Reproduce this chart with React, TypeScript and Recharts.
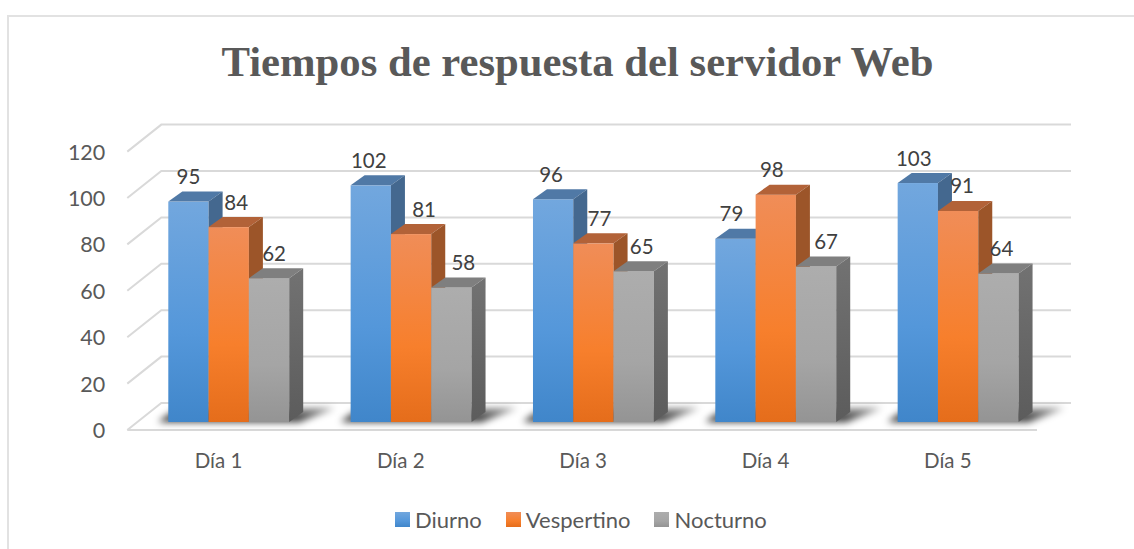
import React from "react";
import { BarChart, Bar, XAxis, YAxis, CartesianGrid, Legend, LabelList } from "recharts";

const categories = ["Día 1", "Día 2", "Día 3", "Día 4", "Día 5"];
const diurno = [95, 102, 96, 79, 103];
const vespertino = [84, 81, 77, 98, 91];
const nocturno = [62, 58, 65, 67, 64];
const yTicks = [0, 20, 40, 60, 80, 100, 120];
const rows = categories.map((name, i) => ({ name, Diurno: diurno[i], Vespertino: vespertino[i], Nocturno: nocturno[i] }));

const diurnoNudge = [0, -2, -2, -4, -4];
const vespertinoNudge = [7.5, 13, 6, -4, 4];
const nocturnoNudge = [5, 12, 8, 10, 3];

const FONT = "Lato, sans-serif";
const DX = 14;
const DY = 10;

const Box = ({ x, y, width, height, fill, topFill, sideFill, shadow }: any) => (
  <g>
    {shadow ? (
      <polygon
        points={`${x - 10},${y + height} ${x + width * 3 + 10},${y + height} ${x + width * 3 + 46},${y + height - 14} ${x + 8},${y + height - 14}`}
        fill="url(#gShadow)"
        filter="url(#shadowBlur)"
      />
    ) : null}
    <rect x={x} y={y} width={width} height={height} fill={fill} />
    <polygon points={`${x},${y} ${x + width},${y} ${x + width + DX},${y - DY} ${x + DX},${y - DY}`} fill={topFill} />
    <polygon
      points={`${x + width},${y} ${x + width + DX},${y - DY} ${x + width + DX},${y + height - DY} ${x + width},${y + height}`}
      fill={sideFill}
    />
  </g>
);

const gridLine = (props: any) => {
  const { x1, x2, y1 } = props;
  const fx = x1 - 10;
  const bx = x1 + 24;
  const fy = y1 + 8;
  const by = y1 - 19;
  return (
    <g key={props.key ?? y1}>
      <polyline points={`${fx},${fy} ${bx},${by} ${x2 + 22},${by}`} fill="none" stroke="#D9D9D9" strokeWidth={2} />
      {y1 > 420 ? <line x1={fx} y1={fy} x2={x2 - 12} y2={fy} stroke="#D9D9D9" strokeWidth={2} /> : null}
    </g>
  );
};

const YTick = ({ x, y, payload }: any) => (
  <text x={x} y={y + 8} textAnchor="end" dominantBaseline="central" fontFamily={FONT} fontSize={21.5} fill="#595959">
    {payload.value}
  </text>
);

const XTick = ({ x, y, payload }: any) => (
  <text x={x - 10} y={y + 46} textAnchor="middle" fontFamily={FONT} fontSize={20.5} fill="#595959">
    {payload.value}
  </text>
);

const valueLabel = (nudge: number[]) => ({ x, y, width, value, index }: any) => (
  <text x={x + width / 2 + nudge[index]} y={y - 25.5} textAnchor="middle" dominantBaseline="central" fontFamily={FONT} fontSize={20.5} fill="#404040">
    {value}
  </text>
);

const legendContent = ({ payload }: any) => (
  <div style={{ display: "flex", alignItems: "center", height: 30 }}>
    {(payload ?? []).map((entry: any) => (
      <div key={entry.value} style={{ display: "flex", alignItems: "center", marginRight: 24 }}>
        <svg width={15} height={15} style={{ marginRight: 5 }}>
          <rect width={15} height={15} fill={entry.color} />
        </svg>
        <span style={{ color: "#595959", fontFamily: FONT, fontSize: 22 }}>{entry.value}</span>
      </div>
    ))}
  </div>
);

const stops = (id: string, a: string, b: string, c: string) => (
  <linearGradient id={id} x1="0" y1="0" x2="0" y2="1">
    <stop offset="0" stopColor={a} />
    <stop offset="0.6" stopColor={b} />
    <stop offset="1" stopColor={c} />
  </linearGradient>
);

export default function App() {
  return (
    <div style={{ position: "absolute", left: 0, top: 0, width: 1134, height: 549, background: "#fff", overflow: "hidden" }}>
      <div style={{ position: "absolute", left: 7, top: 15, width: 1140, height: 560, borderTop: "2px solid #E2E2E2", borderLeft: "2px solid #E2E2E2", boxSizing: "border-box" }} />
      <div
        style={{
          position: "absolute", left: 0.5, top: 34, width: 1154, textAlign: "center",
          fontFamily: "'Liberation Serif', serif", fontWeight: 700, fontSize: 42.7, color: "#595959", lineHeight: "56px",
        }}
      >
        Tiempos de respuesta del servidor Web
      </div>
      <BarChart
        width={1134}
        height={549}
        data={rows}
        margin={{ top: 143.6, right: 85, bottom: 57, left: 77.3 }}
        barSize={40.3}
        barGap={0}
        style={{ position: "absolute", left: 0, top: 0 }}
      >
        <defs>
          {stops("gBlue", "#72A7DE", "#5497DA", "#4086CA")}
          {stops("gOrange", "#F08D58", "#F77F2C", "#E56D1B")}
          {stops("gGray", "#ADADAD", "#A5A5A5", "#949494")}
          <linearGradient id="gSide" x1="0" y1="0" x2="0" y2="1">
            <stop offset="0" stopColor="#727272" />
            <stop offset="1" stopColor="#5C5C5C" />
          </linearGradient>
          <linearGradient id="gShadow" x1="0" y1="0" x2="0" y2="1">
            <stop offset="0" stopColor="#000" stopOpacity={0.35} />
            <stop offset="1" stopColor="#000" stopOpacity={0.9} />
          </linearGradient>
          <filter id="shadowBlur" x="-20%" y="-80%" width="140%" height="260%">
            <feGaussianBlur stdDeviation="3.5" />
          </filter>
        </defs>
        <CartesianGrid vertical={false} horizontal={gridLine} />
        <XAxis dataKey="name" axisLine={false} tickLine={false} tick={<XTick />} height={40} tickSize={0} tickMargin={0} />
        <YAxis domain={[0, 120]} ticks={yTicks} axisLine={false} tickLine={false} tick={<YTick />} width={60} tickSize={0} tickMargin={32} />
        <Legend
          verticalAlign="bottom"
          itemSorter={null}
          content={legendContent}
          wrapperStyle={{ position: "absolute", left: 395, top: 504, width: 420, height: 30 }}
        />
        <Bar
          dataKey="Diurno"
          fill="url(#gBlue)"
          isAnimationActive={false}
          shape={(p: any) => <Box {...p} fill="url(#gBlue)" topFill="#5079A6" sideFill="#44688F" shadow />}
        >
          <LabelList dataKey="Diurno" content={valueLabel(diurnoNudge)} />
        </Bar>
        <Bar
          dataKey="Vespertino"
          fill="url(#gOrange)"
          isAnimationActive={false}
          shape={(p: any) => <Box {...p} fill="url(#gOrange)" topFill="#B26238" sideFill="#9C5529" />}
        >
          <LabelList dataKey="Vespertino" content={valueLabel(vespertinoNudge)} />
        </Bar>
        <Bar
          dataKey="Nocturno"
          fill="url(#gGray)"
          isAnimationActive={false}
          shape={(p: any) => <Box {...p} fill="url(#gGray)" topFill="#7F7F7F" sideFill="url(#gSide)" />}
        >
          <LabelList dataKey="Nocturno" content={valueLabel(nocturnoNudge)} />
        </Bar>
      </BarChart>
    </div>
  );
}
